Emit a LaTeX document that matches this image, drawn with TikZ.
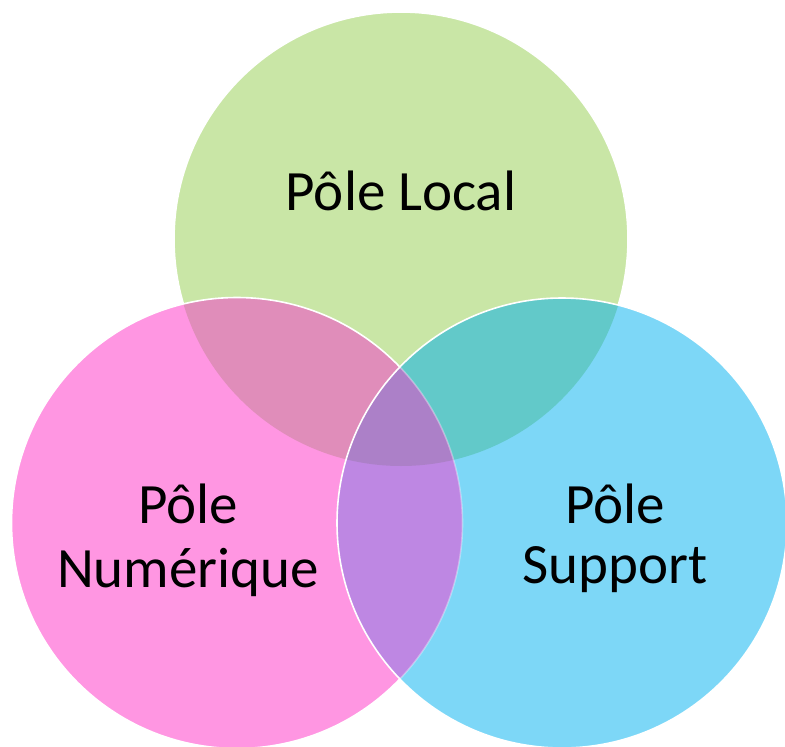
\documentclass[tikz,border=0pt]{standalone}
\usepackage{fontspec}
\setmainfont{Carlito}
\definecolor{cgreen}{HTML}{C9E6A6}
\definecolor{cpink}{HTML}{FF96E2}
\definecolor{cblue}{HTML}{7DD7F7}
\definecolor{cgp}{HTML}{E08DBA}
\definecolor{cgb}{HTML}{62C9C9}
\definecolor{cpb}{HTML}{BE87E3}
\definecolor{ctri}{HTML}{AC80C8}
\begin{document}
\begin{tikzpicture}[x=1pt,y=-1pt,
  border/.style={draw=white,line width=1.6pt},
  lbl/.style={inner sep=0pt,anchor=base,font=\fontsize{57}{65}\selectfont,text=black}]
\useasboundingbox (0,0) rectangle (785,747);
\def\G{(401,239) circle[radius=227pt]}
\def\P{(237,523) circle[radius=225.5pt]}
\def\B{(562,523) circle[radius=225pt]}
% green
\fill[cgreen] \G;
\draw[border] \G;
% pink
\fill[cpink] \P;
\begin{scope}\clip \G; \fill[cgp] \P; \end{scope}
\draw[border] \P;
% blue
\fill[cblue] \B;
\begin{scope}\clip \G; \fill[cgb] \B; \end{scope}
\begin{scope}\clip \P; \fill[cpb] \B; \end{scope}
\begin{scope}\clip \G; \clip \P; \fill[ctri] \B; \end{scope}
\begin{scope}\clip \B; \draw[border,draw opacity=0.35] \P; \end{scope}
\draw[border] \B;
% labels
\node[lbl] (local) at (401,210) {Pôle Local};
\node[lbl] (numA) at (188,523) {Pôle};
\node[lbl] (numB) at (188,587) {Numérique};
\node[lbl] (supA) at (615,523) {Pôle};
\node[lbl] (supB) at (615,583) {Support};
\end{tikzpicture}
\end{document}
